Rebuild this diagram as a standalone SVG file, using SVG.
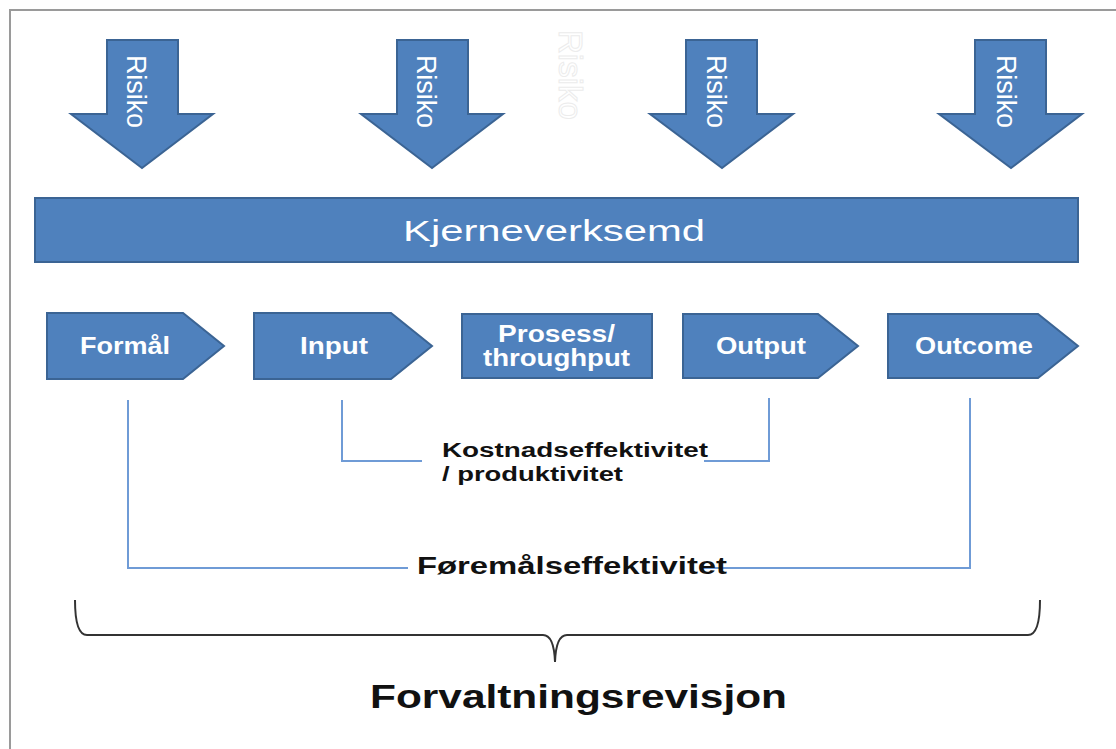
<svg xmlns="http://www.w3.org/2000/svg" width="1116" height="749" viewBox="0 0 1116 749">
<style>
.shape{fill:#4f81bd;stroke:#3b6494;stroke-width:2;stroke-linejoin:miter}
.wt{fill:#fff;font-family:"Liberation Sans",Arial,sans-serif}
.wb{fill:#fff;font-family:"Liberation Sans",Arial,sans-serif;font-weight:bold;font-size:23px}
.bk{fill:#111;font-family:"Liberation Sans",Arial,sans-serif;font-weight:bold}
.conn{fill:none;stroke:#6f9bd6;stroke-width:2}
.rot{fill:#fff;font-family:"Liberation Sans",Arial,sans-serif;font-size:27px}
</style>
<rect x="0" y="0" width="1116" height="749" fill="#fff"/>
<path d="M10 749 V10 H1116" fill="none" stroke="#9a9a9a" stroke-width="2"/>

<g id="ghost-risiko">
<text transform="translate(559 30) rotate(90)" font-family="Liberation Sans, Arial, sans-serif" font-size="33" fill="#fff" stroke="#ececec" stroke-width="1" textLength="90" lengthAdjust="spacingAndGlyphs">Risiko</text>
</g>

<g id="risiko-1">
<path class="shape" d="M107 40 H178 V114 H213 L142 168 L71 114 H107 Z"/>
<text class="rot" transform="translate(127 55) rotate(90)" textLength="73" lengthAdjust="spacingAndGlyphs">Risiko</text>
</g>
<g id="risiko-2">
<path class="shape" d="M397 40 H468 V114 H503 L432 168 L361 114 H397 Z"/>
<text class="rot" transform="translate(417 55) rotate(90)" textLength="73" lengthAdjust="spacingAndGlyphs">Risiko</text>
</g>
<g id="risiko-3">
<path class="shape" d="M686 40 H757 V114 H793 L722 168 L650 114 H686 Z"/>
<text class="rot" transform="translate(707 55) rotate(90)" textLength="73" lengthAdjust="spacingAndGlyphs">Risiko</text>
</g>
<g id="risiko-4">
<path class="shape" d="M975 40 H1046 V114 H1082 L1011 168 L939 114 H975 Z"/>
<text class="rot" transform="translate(997 55) rotate(90)" textLength="73" lengthAdjust="spacingAndGlyphs">Risiko</text>
</g>

<g id="kjerneverksemd">
<rect class="shape" x="35" y="198" width="1043" height="64"/>
<text class="wt" x="403" y="241" font-size="30" textLength="302" lengthAdjust="spacingAndGlyphs">Kjerneverksemd</text>
</g>

<g id="formal">
<path class="shape" d="M47 313 H183 L224 346 L183 379 H47 Z"/>
<text class="wb" x="80" y="354" textLength="90" lengthAdjust="spacingAndGlyphs">Formål</text>
</g>
<g id="input">
<path class="shape" d="M254 313 H391 L432 346 L391 379 H254 Z"/>
<text class="wb" x="300" y="354" textLength="68" lengthAdjust="spacingAndGlyphs">Input</text>
</g>
<g id="prosess">
<rect class="shape" x="462" y="314" width="190" height="64"/>
<text class="wb" x="498" y="342" font-size="20" textLength="117" lengthAdjust="spacingAndGlyphs">Prosess/</text>
<text class="wb" x="483" y="366" font-size="20" textLength="147" lengthAdjust="spacingAndGlyphs">throughput</text>
</g>
<g id="output">
<path class="shape" d="M683 314 H818 L858 346 L818 378 H683 Z"/>
<text class="wb" x="716" y="354" textLength="90" lengthAdjust="spacingAndGlyphs">Output</text>
</g>
<g id="outcome">
<path class="shape" d="M888 314 H1038 L1078 346 L1038 378 H888 Z"/>
<text class="wb" x="915" y="354" textLength="118" lengthAdjust="spacingAndGlyphs">Outcome</text>
</g>

<g id="connectors">
<path class="conn" d="M342 400 V461 H422"/>
<path class="conn" d="M704 461 H769 V398"/>
<path class="conn" d="M128 400 V568 H408"/>
<path class="conn" d="M703 568 H970 V398"/>
<path d="M75 600 Q75 635 87 635 H543 Q554 635 555 662 Q556 635 567 635 H1028 Q1040 635 1040 600" fill="none" stroke="#333" stroke-width="2"/>
</g>

<g id="labels">
<text class="bk" x="442" y="457" font-size="20" textLength="266" lengthAdjust="spacingAndGlyphs">Kostnadseffektivitet</text>
<text class="bk" x="442" y="481" font-size="20" textLength="181" lengthAdjust="spacingAndGlyphs">/ produktivitet</text>
<text class="bk" x="417" y="574" font-size="23" textLength="310" lengthAdjust="spacingAndGlyphs">Føremålseffektivitet</text>
<text class="bk" x="370" y="708" font-size="34" textLength="417" lengthAdjust="spacingAndGlyphs">Forvaltningsrevisjon</text>
</g>
</svg>
